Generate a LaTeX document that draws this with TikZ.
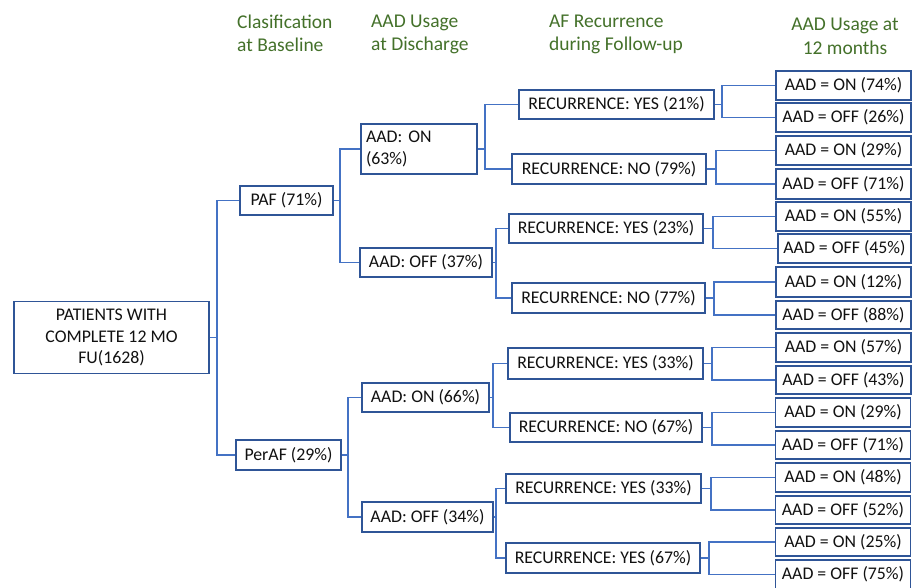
\documentclass[tikz,border=0pt]{standalone}
\usepackage{fontspec}
\setmainfont{Carlito}
\definecolor{boxblue}{HTML}{2F5597}
\definecolor{linkblue}{HTML}{4472C4}
\definecolor{headgreen}{HTML}{44712A}
\definecolor{txt}{HTML}{111111}
\begin{document}
\begin{tikzpicture}[x=1pt,y=-1pt,
  box/.style={draw=boxblue,line width=1.8pt,fill=white,inner sep=0pt,text=txt,
    font=\fontsize{17.8}{21.5}\selectfont,align=center},
  leaf/.style={box,minimum width=135pt,minimum height=29pt},
  conn/.style={draw=linkblue,line width=1.6pt},
  head/.style={text=headgreen,font=\fontsize{19.5}{23.5}\selectfont,inner sep=0pt}]
\useasboundingbox (0,0) rectangle (912,587);
\clip (0,0) rectangle (912,587);
\fill[white] (0,0) rectangle (912,587);

% headers
\node[head,anchor=north west,align=left] (h1) at (237,14.5) {Clasification\\at Baseline};
\node[head,anchor=north west,align=left] (h2) at (371,14.5) {AAD Usage\\at Discharge};
\node[head,anchor=north west,align=left] (h3) at (549,14.5) {AF Recurrence\\during Follow-up};
\node[head,anchor=north,align=center] (h4) at (845,18) {AAD Usage at\\12 months};

% level 0
\node[box,minimum width=195pt,minimum height=72pt] (root) at (111.5,337.5) {PATIENTS WITH\\COMPLETE 12 MO\\FU(1628)};
% level 1
\node[box,minimum width=93pt,minimum height=29pt] (paf) at (286.5,200.5) {PAF (71\%)};
\node[box,minimum width=105pt,minimum height=30pt] (peraf) at (288.5,455) {PerAF (29\%)};
% level 2
\node[box,minimum width=116pt,minimum height=50pt,align=left,text width=106pt] (on63) at (419,149) {AAD: ON\\(63\%)};
\node[box,minimum width=132pt,minimum height=29pt] (off37) at (426,262.5) {AAD: OFF (37\%)};
\node[box,minimum width=127pt,minimum height=29pt] (on66) at (425.5,397.5) {AAD: ON (66\%)};
\node[box,minimum width=131pt,minimum height=30pt] (off34) at (427.5,517) {AAD: OFF (34\%)};
% level 3
\node[box,minimum width=195pt,minimum height=29pt] (y21) at (616.5,104.5) {RECURRENCE: YES (21\%)};
\node[box,minimum width=194pt,minimum height=30pt] (n79) at (609,169) {RECURRENCE: NO (79\%)};
\node[box,minimum width=194pt,minimum height=29pt] (y23) at (606,228.5) {RECURRENCE: YES (23\%)};
\node[box,minimum width=193pt,minimum height=30pt] (n77) at (608.5,298) {RECURRENCE: NO (77\%)};
\node[box,minimum width=195pt,minimum height=31pt] (y33a) at (605.5,363.5) {RECURRENCE: YES (33\%)};
\node[box,minimum width=192pt,minimum height=29pt] (n67) at (606,427.5) {RECURRENCE: NO (67\%)};
\node[box,minimum width=195pt,minimum height=29pt] (y33b) at (603.5,488.5) {RECURRENCE: YES (33\%)};
\node[box,minimum width=194pt,minimum height=30pt] (y67) at (603,558) {RECURRENCE: YES (67\%)};
% level 4
\node[leaf] (l1) at (843.5,85.5) {AAD = ON (74\%)};
\node[leaf] (l2) at (843.5,117.5) {AAD = OFF (26\%)};
\node[leaf] (l3) at (843.5,150.5) {AAD = ON (29\%)};
\node[leaf,minimum height=30pt] (l4) at (843.5,184) {AAD = OFF (71\%)};
\node[leaf] (l5) at (843.5,216.5) {AAD = ON (55\%)};
\node[leaf,minimum width=133pt] (l6) at (844.5,248.5) {AAD = OFF (45\%)};
\node[leaf,minimum height=30pt] (l7) at (843.5,282) {AAD = ON (12\%)};
\node[leaf,minimum height=28pt] (l8) at (843.5,315) {AAD = OFF (88\%)};
\node[leaf] (l9) at (843.5,347.5) {AAD = ON (57\%)};
\node[leaf,minimum height=28pt] (l10) at (843.5,380) {AAD = OFF (43\%)};
\node[leaf] (l11) at (843,412.5) {AAD = ON (29\%)};
\node[leaf,minimum height=28pt] (l12) at (843,445) {AAD = OFF (71\%)};
\node[leaf] (l13) at (843,477.5) {AAD = ON (48\%)};
\node[leaf,minimum height=28pt] (l14) at (843,510) {AAD = OFF (52\%)};
\node[leaf,minimum height=28pt] (l15) at (843,542) {AAD = ON (25\%)};
\node[leaf] (l16) at (843,574.5) {AAD = OFF (75\%)};

% connectors
\draw[conn] (root.east) -- (217,337.5) coordinate (j0);
\draw[conn] (paf.west) -| (j0) |- (peraf.west);
\draw[conn] (paf.east) -- (340,200.5) coordinate (j1);
\draw[conn] (on63.west) -| (j1) |- (off37.west);
\draw[conn] (peraf.east) -- (348,455) coordinate (j2);
\draw[conn] (on66.west) -| (j2) |- (off34.west);
\draw[conn] (on63.east) -- (485,149) coordinate (j3);
\draw[conn] (y21.west) -| (j3) |- (n79.west);
\draw[conn] (off37.east) -- (496,262.5) coordinate (j4);
\draw[conn] (y23.west) -| (j4) |- (n77.west);
\draw[conn] (on66.east) -- (493,397.5) coordinate (j5);
\draw[conn] (y33a.west) -| (j5) |- (n67.west);
\draw[conn] (off34.east) -- (496,517) coordinate (j6);
\draw[conn] (y33b.west) -| (j6) |- (y67.west);
\draw[conn] (y21.east) -- (722,104.5) coordinate (k1);
\draw[conn] (l1.west) -| (k1) |- (l2.west);
\draw[conn] (n79.east) -- (716,169) coordinate (k2);
\draw[conn] (l3.west) -| (k2) |- (l4.west);
\draw[conn] (y23.east) -- (713,228.5) coordinate (k3);
\draw[conn] (l5.west) -| (k3) |- (l6.west);
\draw[conn] (n77.east) -- (714,298) coordinate (k4);
\draw[conn] (l7.west) -| (k4) |- (l8.west);
\draw[conn] (y33a.east) -- (712,363.5) coordinate (k5);
\draw[conn] (l9.west) -| (k5) |- (l10.west);
\draw[conn] (n67.east) -- (712,427.5) coordinate (k6);
\draw[conn] (l11.west) -| (k6) |- (l12.west);
\draw[conn] (y33b.east) -- (711,488.5) coordinate (k7);
\draw[conn] (l13.west) -| (k7) |- (l14.west);
\draw[conn] (y67.east) -- (709,558) coordinate (k8);
\draw[conn] (l15.west) -| (k8) |- (l16.west);
\end{tikzpicture}
\end{document}
